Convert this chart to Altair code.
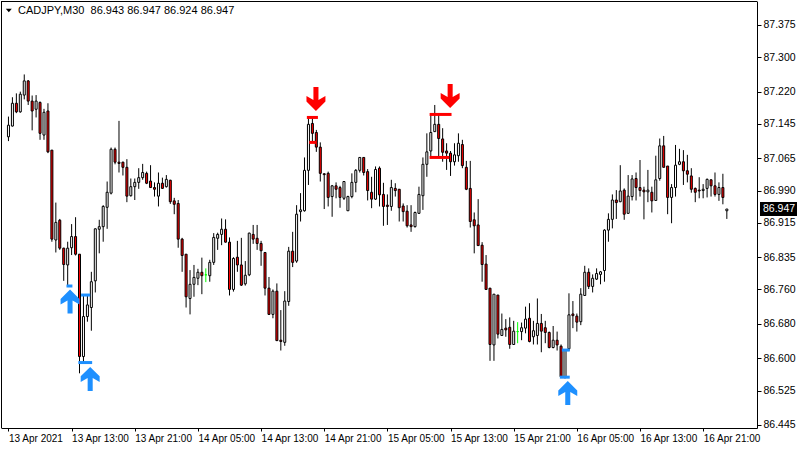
import json
import altair as alt
import pandas as pd

symbol = "CADJPY,M30"

# 30-minute OHLC bars, oldest first
opens = [
    87.115, 87.140, 87.193, 87.173, 87.212, 87.245, 87.198, 87.179, 87.195, 87.119,
    87.175, 87.084, 86.875, 86.921, 86.856, 86.817, 86.857, 86.883, 86.842, 86.604,
    86.697, 86.718, 86.780, 86.900, 86.906, 86.951, 86.984, 87.086, 87.056, 87.056,
    87.044, 86.978, 86.999, 87.009, 87.020, 87.030, 87.012, 86.997, 86.977, 87.007,
    86.999, 87.014, 86.966, 86.960, 86.877, 86.842, 86.739, 86.772, 86.786, 86.800,
    86.794, 86.792, 86.823, 86.879, 86.888, 86.900, 86.870, 86.760, 86.835, 86.817,
    86.773, 86.794, 86.888, 86.879, 86.867, 86.846, 86.763, 86.702, 86.756, 86.642,
    86.637, 86.732, 86.849, 86.826, 86.941, 86.943, 87.037, 87.146, 87.125, 87.091,
    87.029, 87.030, 86.976, 87.001, 86.997, 86.972, 86.943, 86.976, 87.009, 87.037,
    87.067, 87.034, 86.986, 86.970, 87.042, 86.981, 86.956, 86.953, 86.995, 86.993,
    86.954, 86.942, 86.910, 86.906, 86.937, 86.978, 87.051, 87.082, 87.127, 87.144,
    87.110, 87.082, 87.077, 87.057, 87.071, 87.097, 87.044, 86.995, 86.922, 86.910,
    86.863, 86.819, 86.763, 86.631, 86.747, 86.653, 86.670, 86.672, 86.632, 86.662,
    86.662, 86.670, 86.693, 86.650, 86.653, 86.681, 86.671, 86.660, 86.625, 86.642,
    86.628, 86.556, 86.622, 86.703, 86.698, 86.685, 86.746, 86.800, 86.767, 86.784,
    86.795, 86.804, 86.898, 86.923, 86.968, 86.964, 86.991, 86.937, 86.976, 87.018,
    86.997, 86.991, 86.987, 86.986, 86.967, 87.018, 87.094, 87.047, 86.974, 86.997,
    87.051, 87.057, 87.036, 87.024, 86.995, 86.991, 86.990, 86.995, 87.015, 87.001,
    86.981, 86.997, 86.943,
]
highs = [
    87.162, 87.207, 87.216, 87.220, 87.260, 87.247, 87.211, 87.212, 87.197, 87.180,
    87.193, 87.084, 86.962, 86.924, 86.857, 86.871, 86.912, 86.928, 86.842, 86.747,
    86.747, 86.801, 86.902, 86.922, 86.956, 87.011, 87.090, 87.090, 87.152, 87.057,
    87.063, 87.018, 87.018, 87.042, 87.052, 87.034, 87.049, 87.009, 87.032, 87.020,
    87.026, 87.015, 86.973, 86.968, 86.880, 86.842, 86.805, 86.817, 86.808, 86.834,
    86.809, 86.829, 86.891, 86.892, 86.925, 86.923, 86.881, 86.835, 86.873, 86.880,
    86.826, 86.892, 86.910, 86.910, 86.873, 86.846, 86.789, 86.760, 86.774, 86.712,
    86.756, 86.859, 86.894, 86.956, 86.984, 87.067, 87.158, 87.162, 87.131, 87.102,
    87.030, 87.034, 87.003, 87.009, 87.001, 87.012, 86.978, 87.030, 87.040, 87.067,
    87.067, 87.040, 87.022, 87.046, 87.046, 87.008, 86.981, 87.015, 87.007, 86.993,
    86.960, 86.956, 86.956, 86.941, 86.999, 87.067, 87.123, 87.170, 87.189, 87.170,
    87.135, 87.100, 87.082, 87.100, 87.123, 87.108, 87.059, 87.059, 86.939, 86.970,
    86.870, 86.840, 86.763, 86.749, 86.747, 86.704, 86.691, 86.695, 86.687, 86.684,
    86.683, 86.720, 86.728, 86.687, 86.739, 86.703, 86.687, 86.662, 86.675, 86.662,
    86.632, 86.621, 86.751, 86.733, 86.704, 86.763, 86.815, 86.809, 86.795, 86.809,
    86.803, 86.900, 86.937, 86.981, 86.991, 87.049, 86.995, 87.026, 87.026, 87.032,
    87.061, 86.999, 87.038, 86.999, 87.071, 87.111, 87.117, 87.047, 87.005, 87.096,
    87.087, 87.084, 87.073, 87.042, 86.997, 87.021, 87.005, 87.018, 87.016, 87.032,
    87.009, 87.029, 86.947,
]
lows = [
    87.105, 87.139, 87.170, 87.171, 87.202, 87.189, 87.130, 87.160, 87.108, 87.108,
    87.077, 86.871, 86.846, 86.852, 86.780, 86.770, 86.840, 86.839, 86.565, 86.590,
    86.685, 86.664, 86.753, 86.844, 86.871, 86.901, 86.981, 87.051, 87.032, 87.025,
    86.963, 86.976, 86.968, 86.994, 87.015, 87.005, 86.997, 86.976, 86.953, 86.994,
    86.997, 86.959, 86.935, 86.857, 86.801, 86.718, 86.702, 86.743, 86.770, 86.749,
    86.777, 86.778, 86.817, 86.852, 86.863, 86.869, 86.746, 86.755, 86.801, 86.768,
    86.769, 86.791, 86.866, 86.852, 86.815, 86.746, 86.701, 86.693, 86.640, 86.618,
    86.629, 86.722, 86.812, 86.822, 86.918, 86.941, 87.003, 87.102, 87.080, 87.011,
    86.947, 86.953, 86.929, 86.972, 86.950, 86.968, 86.943, 86.972, 86.986, 87.032,
    87.025, 86.967, 86.949, 86.968, 86.953, 86.908, 86.910, 86.943, 86.976, 86.918,
    86.918, 86.904, 86.894, 86.904, 86.936, 86.945, 87.022, 87.065, 87.127, 87.067,
    87.057, 87.038, 87.024, 87.048, 87.057, 87.042, 86.991, 86.904, 86.844, 86.862,
    86.778, 86.759, 86.594, 86.594, 86.646, 86.653, 86.650, 86.622, 86.631, 86.635,
    86.642, 86.658, 86.637, 86.632, 86.632, 86.614, 86.635, 86.623, 86.623, 86.618,
    86.556, 86.553, 86.617, 86.670, 86.662, 86.677, 86.746, 86.761, 86.753, 86.782,
    86.772, 86.778, 86.871, 86.902, 86.924, 86.963, 86.922, 86.936, 86.967, 86.967,
    86.976, 86.923, 86.963, 86.939, 86.967, 87.013, 87.044, 86.935, 86.914, 86.976,
    87.049, 87.003, 87.009, 86.985, 86.963, 86.972, 86.972, 86.974, 86.976, 86.976,
    86.966, 86.958, 86.924,
]
closes = [
    87.142, 87.193, 87.173, 87.214, 87.245, 87.198, 87.175, 87.198, 87.123, 87.172,
    87.080, 86.877, 86.916, 86.856, 86.818, 86.856, 86.883, 86.842, 86.604, 86.697,
    86.724, 86.778, 86.901, 86.906, 86.953, 86.986, 87.086, 87.056, 87.053, 87.044,
    86.977, 86.999, 87.009, 87.020, 87.032, 87.007, 86.997, 86.993, 87.007, 86.995,
    87.016, 86.964, 86.958, 86.877, 86.839, 86.743, 86.772, 86.788, 86.800, 86.792,
    86.794, 86.823, 86.881, 86.888, 86.900, 86.870, 86.760, 86.832, 86.817, 86.770,
    86.793, 86.891, 86.877, 86.867, 86.850, 86.763, 86.702, 86.756, 86.641, 86.639,
    86.733, 86.849, 86.823, 86.935, 86.945, 87.037, 87.144, 87.123, 87.091, 87.030,
    87.027, 86.974, 87.001, 86.993, 86.974, 87.011, 86.976, 87.009, 87.037, 87.067,
    87.032, 86.990, 86.970, 87.039, 86.980, 86.953, 86.953, 86.997, 86.990, 86.950,
    86.941, 86.908, 86.906, 86.939, 86.981, 87.051, 87.080, 87.125, 87.144, 87.111,
    87.079, 87.077, 87.057, 87.073, 87.100, 87.048, 86.993, 86.918, 86.908, 86.862,
    86.818, 86.760, 86.632, 86.749, 86.656, 86.667, 86.666, 86.632, 86.663, 86.662,
    86.671, 86.691, 86.639, 86.664, 86.681, 86.663, 86.660, 86.625, 86.642, 86.631,
    86.557, 86.619, 86.701, 86.699, 86.684, 86.749, 86.800, 86.767, 86.786, 86.797,
    86.801, 86.898, 86.923, 86.968, 86.962, 86.989, 86.935, 86.977, 87.017, 86.997,
    86.990, 86.987, 86.991, 86.966, 87.015, 87.094, 87.044, 86.974, 86.997, 87.049,
    87.057, 87.036, 87.028, 86.993, 86.986, 86.989, 86.993, 87.016, 87.001, 86.981,
    86.997, 86.974, 86.947,
]

# time-axis labels, one every 16 bars (8 hours)
time_labels = [
    "13 Apr 2021", "13 Apr 13:00", "13 Apr 21:00", "14 Apr 05:00",
    "14 Apr 13:00", "14 Apr 21:00", "15 Apr 05:00", "15 Apr 13:00",
    "15 Apr 21:00", "16 Apr 05:00", "16 Apr 13:00", "16 Apr 21:00",
]
price_ticks = [86.445, 86.525, 86.600, 86.680, 86.760, 86.835, 86.915,
               86.990, 87.065, 87.145, 87.220, 87.300, 87.375]

# indicator signals: arrows at swing points
sell_arrow_bar = [77.9, 111.9]
sell_arrow_price = [87.203, 87.210]
buy_arrow_bar = [15.6, 20.7, 141.7]
buy_arrow_price = [86.732, 86.552, 86.519]

# indicator level segments around each swing
sell_level_start = [75.6, 76.2, 106.7, 106.7]
sell_level_end = [78.4, 77.9, 112.25, 111.7]
sell_level_price = [87.160, 87.102, 87.167, 87.067]
buy_level_start = [14.7, 18.4, 17.7, 139.7, 140.2]
buy_level_end = [16.2, 20.7, 21.2, 142.2, 142.2]
buy_level_price = [86.768, 86.747, 86.590, 86.556, 86.619]

FONT = "Liberation Sans"
BEAR = "#ff0000"
BUY = "#1e90ff"
SELL = "#ff0000"
DOJI = "#00ff00"

W, H = 756, 427

kinds = ["up" if c > o else ("down" if c < o else "doji") for o, c in zip(opens, closes)]
candles = pd.DataFrame({
    "bar": list(range(len(opens))),
    "open": opens, "high": highs, "low": lows, "close": closes, "kind": kinds,
})
sell_levels = pd.DataFrame({"start": sell_level_start, "end": sell_level_end,
                            "price": sell_level_price})
buy_levels = pd.DataFrame({"start": buy_level_start, "end": buy_level_end,
                           "price": buy_level_price})
buys = pd.DataFrame({"bar": buy_arrow_bar, "price": buy_arrow_price})
sells = pd.DataFrame({"bar": sell_arrow_bar, "price": sell_arrow_price})
last = pd.DataFrame({"price": [closes[-1]], "txt": [f"{closes[-1]:.3f}"]})
# non-breaking spaces keep the double gap after the symbol in SVG text
header = pd.DataFrame({"txt": [
    f"{symbol}\u00a0\u00a0{opens[-1]:.3f} {highs[-1]:.3f} {lows[-1]:.3f} {closes[-1]:.3f}"
]})

# bar centres fall on pixel centres: 4 px per bar
xs = alt.Scale(domain=[-0.625, 188.375], nice=False, zero=False)
ys = alt.Scale(domain=[86.4378, 87.4308], nice=False, zero=False)

x_axis = alt.Axis(
    values=list(range(0, 16 * len(time_labels), 16)),
    labelExpr=json.dumps(time_labels) + "[round(datum.value / 16)]",
    orient="bottom", grid=False, title=None, tickSize=3, labelPadding=2,
    labelAlign="left", labelBaseline="top", labelOverlap=False,
    labelFont=FONT, labelFontSize=10, labelColor="black",
    domainColor="black", tickColor="black",
)
y_axis = alt.Axis(
    values=price_ticks, format=".3f", orient="right", grid=False, title=None,
    tickSize=4, labelPadding=2, labelOverlap=False, labelFont=FONT,
    labelFontSize=10.5, labelColor="black", domainColor="black", tickColor="black",
)


def X(field):
    return alt.X(field, type="quantitative", scale=xs, axis=x_axis)


def Y(field):
    return alt.Y(field, type="quantitative", scale=ys, axis=y_axis)


kind_dom = ["up", "down", "doji"]
wicks = alt.Chart(candles).mark_rule(strokeWidth=1).encode(
    x=X("bar"), y=Y("low"), y2="high",
    color=alt.Color("kind:N", legend=None,
                    scale=alt.Scale(domain=kind_dom, range=["black", "black", DOJI])),
)
bodies = alt.Chart(candles).mark_bar(width=2, strokeWidth=1, opacity=1).encode(
    x=X("bar"), y=Y("open"), y2="close",
    fill=alt.Fill("kind:N", legend=None,
                  scale=alt.Scale(domain=kind_dom, range=["white", BEAR, DOJI])),
    stroke=alt.Stroke("kind:N", legend=None,
                      scale=alt.Scale(domain=kind_dom, range=["black", "black", DOJI])),
)
sell_rules = alt.Chart(sell_levels).mark_rule(strokeWidth=3, color=SELL).encode(
    x=X("start"), x2="end", y=Y("price"))
buy_rules = alt.Chart(buy_levels).mark_rule(strokeWidth=3, color=BUY).encode(
    x=X("start"), x2="end", y=Y("price"))

UP_ARROW = ("M0,-1L0.79,-0.21L0.79,0.25L0.21,-0.08L0.21,1L-0.21,1"
            "L-0.21,-0.08L-0.79,0.25L-0.79,-0.21Z")
DOWN_ARROW = ("M0,1L0.79,0.21L0.79,-0.25L0.21,0.08L0.21,-1L-0.21,-1"
              "L-0.21,0.08L-0.79,-0.25L-0.79,0.21Z")

buy_marks = alt.Chart(buys).mark_point(
    shape=UP_ARROW, size=576, filled=True, opacity=1, color=BUY, strokeWidth=0
).encode(x=X("bar"), y=Y("price"))
sell_marks = alt.Chart(sells).mark_point(
    shape=DOWN_ARROW, size=576, filled=True, opacity=1, color=SELL, strokeWidth=0
).encode(x=X("bar"), y=Y("price"))

# last-price tag on the price scale
tag = alt.Chart(last).mark_point(
    shape="M-1,-0.378L1,-0.378L1,0.378L-1,0.378Z", size=37 * 37,
    filled=True, opacity=1, color="black", strokeWidth=0,
).encode(x=alt.value(777.5), y=Y("price"))
tag_text = alt.Chart(last).mark_text(
    align="left", baseline="middle", color="white", font=FONT, fontSize=10.5
).encode(x=alt.value(762), y=Y("price"), text="txt:N")

# symbol header in the top-left corner
header_icon = alt.Chart(header).mark_point(
    shape="M-1,-0.6L1,-0.6L0,0.6Z", size=36, filled=True, opacity=1,
    color="black", strokeWidth=0,
).encode(x=alt.value(7.8), y=alt.value(9.5))
header_text = alt.Chart(header).mark_text(
    align="left", baseline="middle", color="black", font=FONT, fontSize=11
).encode(x=alt.value(17), y=alt.value(9.5), text="txt:N")

# top and left edges of the chart frame (bottom and right come from the axes)
frame_top = alt.Chart(header).mark_rule(color="black", strokeWidth=1).encode(
    x=alt.value(0), x2=alt.value(W), y=alt.value(0.5))
frame_left = alt.Chart(header).mark_rule(color="black", strokeWidth=1).encode(
    x=alt.value(0.5), y=alt.value(0), y2=alt.value(H))

chart = alt.layer(
    wicks, bodies, sell_rules, buy_rules, buy_marks, sell_marks,
    tag, tag_text, header_icon, header_text, frame_top, frame_left,
).properties(
    width=W, height=H,
    autosize=alt.AutoSizeParams(type="none"),
    padding={"left": 1, "top": 1, "right": 800 - 1 - W, "bottom": 450 - 1 - H},
    background="white",
).configure_view(stroke=None)

chart.save("out.html", embed_options={"renderer": "svg", "actions": False})
